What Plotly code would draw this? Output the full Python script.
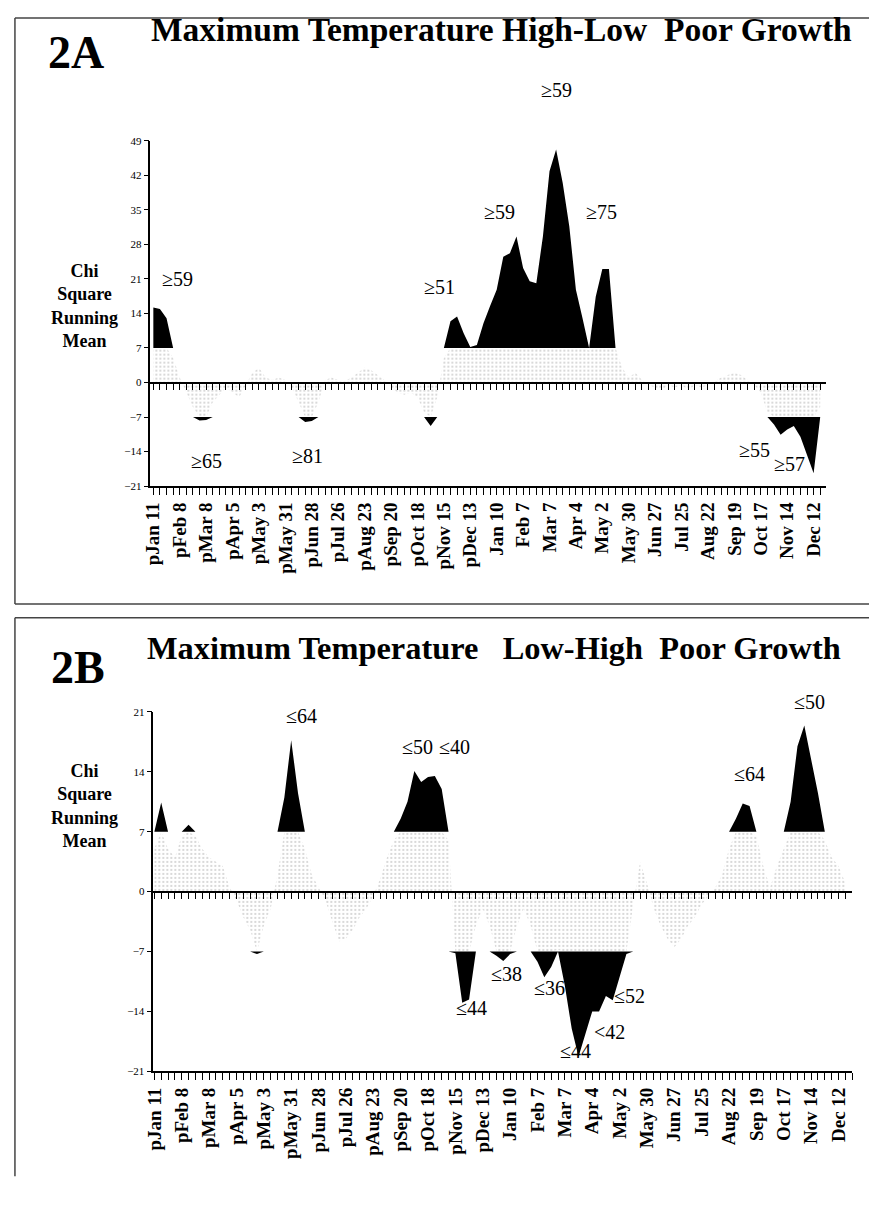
import plotly.graph_objects as go

W, H = 869, 1207

# ---------------- data ----------------
weeks = list(range(102))
tick_weeks = weeks[::4]
tick_labels = ["pJan 11", "pFeb 8", "pMar 8", "pApr 5", "pMay 3", "pMay 31", "pJun 28",
               "pJul 26", "pAug 23", "pSep 20", "pOct 18", "pNov 15", "pDec 13",
               "Jan 10", "Feb 7", "Mar 7", "Apr 4", "May 2", "May 30", "Jun 27",
               "Jul 25", "Aug 22", "Sep 19", "Oct 17", "Nov 14", "Dec 12"]

# Panel 2A: chi-square running mean (weekly)
chi_a = [15.2, 14.9, 13.0, 5.0, 1.0, -2.0, -5.0, -7.7, -7.6, -4.0,
         -2.5, -1.0, -2.0, -3.0, -0.5, 2.0, 3.0, 1.0, 0.5, 1.0,
         0.5, -1.0, -4.0, -8.0, -7.8, -4.0, 0.5, 1.0, 0.5, 0.3,
         1.0, 2.0, 3.0, 2.5, 1.5, 0.5, -1.0, -2.0, -2.5, -2.0,
         -3.0, -6.0, -8.8, -3.0, 5.0, 12.4, 13.4, 10.0, 7.2, 7.6,
         12.0, 15.5, 18.8, 25.5, 26.2, 29.6, 23.2, 20.5, 20.1, 29.6,
         42.8, 47.2, 40.4, 31.6, 18.8, 13.0, 6.5, 17.4, 23.0, 23.0,
         7.0, 3.0, 1.0, 2.0, 0.5, -0.5, -1.0, -1.5, -0.5, -1.0,
         -0.5, -1.5, -0.5, -1.0, -0.5, 0.3, 1.0, 1.5, 2.0, 1.5,
         0.5, -0.5, -2.0, -6.0, -8.5, -10.6, -9.5, -8.8, -11.0, -14.5,
         -18.4, -5.0]

# Panel 2B
chi_b = [5.0, 10.4, 5.0, 4.0, 6.5, 7.8, 6.5, 5.0, 4.0, 3.5,
         3.0, 0.5, -1.0, -3.0, -4.5, -7.3, -4.0, -2.0, 2.0, 11.0,
         17.7, 11.5, 5.0, 2.0, 0.5, -1.0, -3.5, -5.8, -5.5, -4.5,
         -3.0, -2.0, -0.5, 1.5, 4.0, 6.0, 8.5, 10.5, 14.1, 12.8,
         13.4, 13.5, 12.0, 6.0, -7.2, -13.0, -12.6, -4.0, -2.0, -4.0,
         -7.5, -8.1, -7.3, -4.0, -2.0, -4.0, -8.2, -10.0, -8.8, -6.8,
         -11.0, -16.0, -19.3, -16.5, -14.0, -14.0, -12.2, -12.7, -10.1, -7.3,
         -1.5, 3.5, 1.0, -2.0, -4.0, -5.5, -6.5, -5.5, -4.0, -3.0,
         -1.5, -0.5, 0.5, 2.0, 5.0, 8.5, 10.3, 10.0, 6.5, 3.0,
         0.5, 3.0, 5.0, 10.5, 17.0, 19.4, 15.5, 11.5, 6.0, 4.0,
         3.0, 1.0]

threshold = 7

labels_a_text = ["≥59", "≥51", "≥59", "≥59", "≥75", "≥65", "≥81", "≥55", "≥57"]
labels_a_x = [3.7, 43.3, 52.4, 61.1, 67.8, 8.1, 23.4, 91.0, 96.4]
labels_a_y = [23.7, 21.9, 37.2, 61.8, 37.2, -15.8, -14.8, -13.6, -16.6]

labels_b_text = ["≤64", "≤50", "≤40", "≤44", "≤38", "≤36", "≤52", "<42", "≤44", "≤64", "≤50"]
labels_b_x = [21.5, 38.4, 43.9, 46.3, 51.4, 57.7, 69.5, 66.5, 61.5, 87.0, 95.7]
labels_b_y = [20.5, 16.9, 16.9, -15.1, -11.2, -12.8, -13.7, -17.9, -20.1, 13.8, 22.1]

yticks_a = [-21, -14, -7, 0, 7, 14, 21, 28, 35, 42, 49]
yticks_b = [-21, -14, -7, 0, 7, 14, 21]

# ---------------- figure ----------------
SERIF = "Liberation Serif, Times New Roman, serif"
fig = go.Figure()


def add_panel(vals, xa, ya, xz):
    n = len(vals)
    clipped = [max(-threshold, min(threshold, v)) for v in vals]
    upper = [max(v, threshold) for v in vals]
    lower = [min(v, -threshold) for v in vals]
    fig.add_trace(go.Scatter(x=weeks, y=clipped, xaxis=xz, yaxis=ya, mode="lines",
                             line=dict(width=0), fill="tozeroy",
                             fillcolor="rgba(0,0,0,0)",
                             fillpattern=dict(shape=".", fgcolor="#9a9a9a",
                                              bgcolor="rgba(255,255,255,0)",
                                              size=4, solidity=0.2),
                             hoverinfo="skip", showlegend=False))
    fig.add_trace(go.Scatter(x=weeks, y=[threshold] * n, xaxis=xa, yaxis=ya, mode="lines",
                             line=dict(width=0), hoverinfo="skip", showlegend=False))
    fig.add_trace(go.Scatter(x=weeks, y=upper, xaxis=xa, yaxis=ya, mode="lines",
                             line=dict(width=0), fill="tonexty", fillcolor="black",
                             hoverinfo="skip", showlegend=False))
    fig.add_trace(go.Scatter(x=weeks, y=[-threshold] * n, xaxis=xa, yaxis=ya, mode="lines",
                             line=dict(width=0), hoverinfo="skip", showlegend=False))
    fig.add_trace(go.Scatter(x=weeks, y=lower, xaxis=xa, yaxis=ya, mode="lines",
                             line=dict(width=0), fill="tonexty", fillcolor="black",
                             hoverinfo="skip", showlegend=False))


add_panel(chi_a, "x", "y", "x3")
add_panel(chi_b, "x2", "y2", "x4")

# geometry (pixel based)
A_x = [142 / W, 825 / W]
A_y = [1 - 485 / H, 1 - 136 / H]
A_xr = [-0.45, 101.8]
A_yr = [-21, 49]
B_x = [145 / W, 852 / W]
B_y = [1 - 1076 / H, 1 - 713 / H]
B_xr = [-0.15, 102.0]
B_yr = [-21, 21]


def to_paper(v, dom, rng):
    return dom[0] + (v - rng[0]) / (rng[1] - rng[0]) * (dom[1] - dom[0])


def bottom_axis(dom, rng, anchor):
    return dict(domain=dom, range=rng, anchor=anchor, showline=True, linecolor="black",
                linewidth=1.5, ticks="outside", ticklen=7, tickwidth=1, tickcolor="black",
                tickvals=tick_weeks, ticktext=tick_labels, tickangle=-90,
                tickfont=dict(family=SERIF, size=19, color="black", weight="bold"),
                minor=dict(tick0=0, dtick=1, ticks="outside", ticklen=7, tickwidth=1,
                           tickcolor="black", showgrid=False),
                showgrid=False, zeroline=False, fixedrange=True)


def zero_axis(dom, rng, over, ydom, yrng):
    return dict(domain=dom, range=rng, overlaying=over, anchor="free",
                position=to_paper(0, ydom, yrng), side="bottom", showline=True,
                linecolor="black", linewidth=1.5, ticks="outside", ticklen=7, tickwidth=1,
                tickcolor="black", tickvals=weeks, showticklabels=False, showgrid=False,
                zeroline=False, fixedrange=True)


def left_axis(dom, rng, anchor, tv):
    return dict(domain=dom, range=rng, anchor=anchor, showline=True, linecolor="black",
                linewidth=1.5, ticks="outside", ticklen=5, tickwidth=1, tickcolor="black",
                tickvals=tv, tickfont=dict(family=SERIF, size=11, color="black"),
                showgrid=False, zeroline=False, fixedrange=True)


fig.update_layout(
    width=W, height=H, margin=dict(l=0, r=0, t=0, b=0),
    paper_bgcolor="white", plot_bgcolor="rgba(0,0,0,0)", showlegend=False,
    xaxis=bottom_axis(A_x, A_xr, "y"),
    yaxis=left_axis(A_y, A_yr, "x", yticks_a),
    xaxis2=bottom_axis(B_x, B_xr, "y2"),
    yaxis2=left_axis(B_y, B_yr, "x2", yticks_b),
    xaxis3=zero_axis(A_x, A_xr, "x", A_y, A_yr),
    xaxis4=zero_axis(B_x, B_xr, "x2", B_y, B_yr),
)

ann = []
for t, x, y in zip(labels_a_text, labels_a_x, labels_a_y):
    ann.append(dict(text=t, x=x, y=to_paper(y, A_y, A_yr), xref="x", yref="paper",
                    showarrow=False, font=dict(family=SERIF, size=20, color="black")))
for t, x, y in zip(labels_b_text, labels_b_x, labels_b_y):
    ann.append(dict(text=t, x=x, y=to_paper(y, B_y, B_yr), xref="x2", yref="paper",
                    showarrow=False, font=dict(family=SERIF, size=20, color="black")))


def ptext(text, px, py, size, bold=True, align="center"):
    return dict(text=text, x=px / W, y=1 - py / H, xref="paper", yref="paper",
                showarrow=False, xanchor="center", yanchor="middle", align=align,
                font=dict(family=SERIF, size=size, color="black",
                          weight="bold" if bold else "normal"))


ann.append(ptext("Maximum Temperature High-Low\u00a0\u00a0Poor Growth", 497, 24, 33.5))
ann.append(ptext("2A", 67, 47, 46))
ann.append(ptext("Chi<br>Square<br>Running<br>Mean", 75, 303, 18))
ann.append(ptext("Maximum Temperature\u00a0\u00a0\u00a0Low-High\u00a0\u00a0Poor Growth", 490, 648, 32.4))
ann.append(ptext("2B", 69, 668, 46))
ann.append(ptext("Chi<br>Square<br>Running<br>Mean", 75, 808, 18))
fig.update_layout(annotations=ann)

# panel frames
frame = dict(color="#444", width=1.5)
shapes = [
    dict(type="line", xref="paper", yref="paper", x0=5 / W, x1=1, y0=1 - 12 / H, y1=1 - 12 / H, line=frame),
    dict(type="line", xref="paper", yref="paper", x0=5 / W, x1=5 / W, y0=1 - 12 / H, y1=1 - 604 / H, line=frame),
    dict(type="line", xref="paper", yref="paper", x0=5 / W, x1=1, y0=1 - 604 / H, y1=1 - 604 / H, line=frame),
    dict(type="line", xref="paper", yref="paper", x0=5 / W, x1=1, y0=1 - 618 / H, y1=1 - 618 / H, line=frame),
    dict(type="line", xref="paper", yref="paper", x0=5 / W, x1=5 / W, y0=1 - 618 / H, y1=1 - 1182 / H, line=frame),
]
fig.update_layout(shapes=shapes)

fig.write_html("out.html", config={"displayModeBar": False},
               post_script="document.body.style.margin='0px';document.body.style.padding='0px';")
